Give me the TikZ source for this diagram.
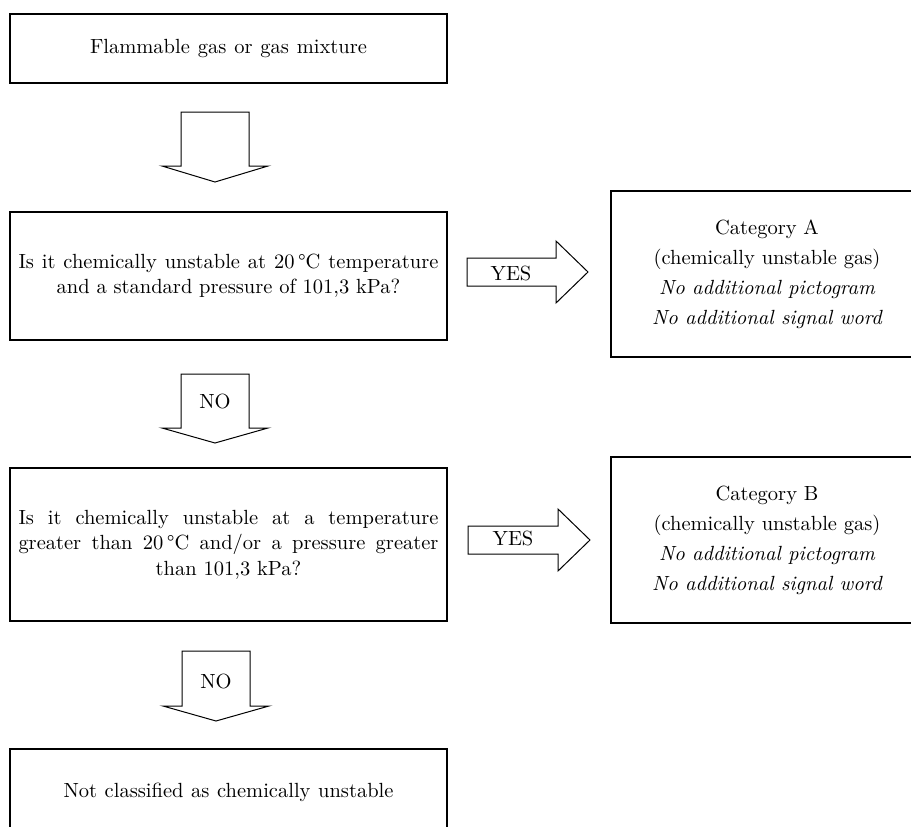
\documentclass[tikz,border=0pt]{standalone}
\usepackage{fontspec}
\setmainfont{lmroman10-regular.otf}[ItalicFont=lmroman10-italic.otf,BoldFont=lmroman10-bold.otf]
\begin{document}
\begin{tikzpicture}[x=1pt,y=-1pt,
  box/.style={draw=black,line width=1.2pt,inner sep=0pt,align=center,font=\fontsize{20.5}{25.5}\selectfont},
  catbox/.style={box,font=\fontsize{20.5}{30}\selectfont},
  blockarrow/.style={draw=black,line width=1pt,line join=miter},
  lab/.style={inner sep=0pt,font=\fontsize{20.5}{24}\selectfont}]
\useasboundingbox (0,0) rectangle (911,827);
\clip (0,0) rectangle (911,827);
\newcommand\DownBlock[4]{%
  \draw[blockarrow] (#1-34,#2) -- (#1-34,#3) -- (#1-53,#3) -- (#1,#4) -- (#1+53,#3) -- (#1+34,#3) -- (#1+34,#2) -- cycle;}
\newcommand\RightBlock[4]{% #1 left x, #2 head base x, #3 tip x, #4 center y
  \draw[blockarrow] (#1,#4-14) -- (#2,#4-14) -- (#2,#4-31) -- (#3,#4) -- (#2,#4+31) -- (#2,#4+14) -- (#1,#4+14) -- cycle;}
% boxes
\node[box,minimum width=437pt,minimum height=69pt] (start) at (228.5,48.5)
  {\makebox[277pt][s]{Flammable gas or gas mixture}};
\node[box,minimum width=437pt,minimum height=128pt] (q1) at (228.5,276)
  {\makebox[420pt][s]{Is it chemically unstable at 20\,°C temperature}\\
   and a standard pressure of 101,3 kPa?};
\node[box,minimum width=437pt,minimum height=153pt] (q2) at (228.5,544.5)
  {\makebox[420pt][s]{Is it chemically unstable at a temperature}\\
   \makebox[420pt][s]{greater than 20\,°C and/or a pressure greater}\\
   than 101,3 kPa?};
\node[box,minimum width=437pt,minimum height=87pt] (notcl) at (228.5,792.5)
  {\makebox[330pt][s]{Not classified as chemically unstable}};
\node[catbox,minimum width=312pt,minimum height=166pt] (catA) at (767,274)
  {Category A\\ (chemically unstable gas)\\ \itshape No additional pictogram\\ \itshape No additional signal word};
\node[catbox,minimum width=312pt,minimum height=166pt] (catB) at (767,540)
  {Category B\\ (chemically unstable gas)\\ \itshape No additional pictogram\\ \itshape No additional signal word};
% block arrows
\DownBlock{215}{112}{166}{182}
\DownBlock{215}{374}{428}{443}
\DownBlock{216}{651}{706}{721}
\RightBlock{467}{556}{588}{272}
\RightBlock{468}{558}{590}{540}
% labels
\node[lab] (no1) at (215,401) {NO};
\node[lab] (no2) at (216,681) {NO};
\node[lab] (yes1) at (511,273) {YES};
\node[lab] (yes2) at (513,538) {YES};
\end{tikzpicture}
\end{document}
